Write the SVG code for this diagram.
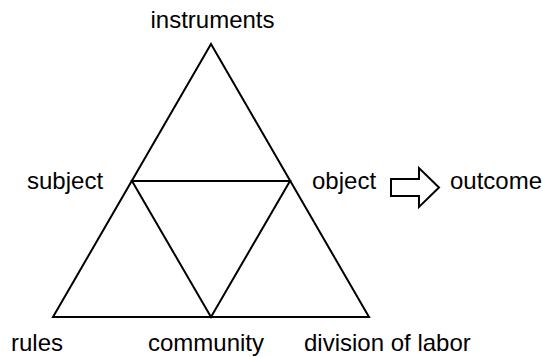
<svg xmlns="http://www.w3.org/2000/svg" width="543" height="357" viewBox="0 0 543 357">
<style>
.ln{fill:none;stroke:#000;stroke-width:2;stroke-linejoin:miter}
.t{font-family:"Liberation Sans",Arial,sans-serif;font-size:24px;fill:#000}
</style>
<rect width="543" height="357" fill="#fff"/>
<g id="connectors">
<polygon class="ln" points="211,44 369,317 53,317"/>
<polygon class="ln" points="132,181 290,181 211,317"/>
<polygon id="arrow" class="ln" points="391,179 419,179 419,168 439,187.5 419,207 419,196 391,196"/>
</g>
<g id="instruments"><text class="t" x="212.5" y="27.5" text-anchor="middle">instruments</text></g>
<g id="subject"><text class="t" x="27" y="189">subject</text></g>
<g id="object"><text class="t" x="312" y="189">object</text></g>
<g id="outcome"><text class="t" x="450" y="189">outcome</text></g>
<g id="rules"><text class="t" x="11" y="350.5">rules</text></g>
<g id="community"><text class="t" x="148" y="350.5">community</text></g>
<g id="division"><text class="t" x="304" y="350.5">division of labor</text></g>
</svg>
